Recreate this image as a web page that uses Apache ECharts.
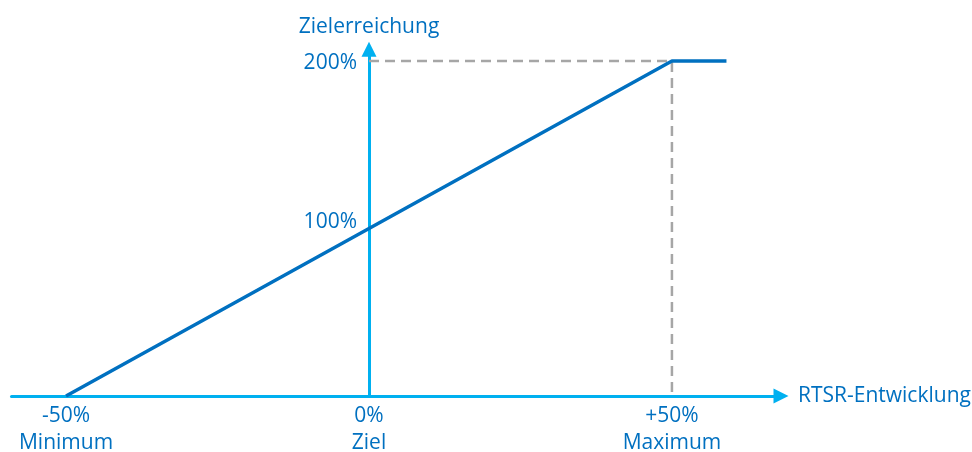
<!DOCTYPE html>
<html>
<head>
<meta charset="utf-8">
<script src="https://cdn.jsdelivr.net/npm/echarts@6/dist/echarts.min.js"></script>
<style>
  html, body { margin: 0; padding: 0; background: #fff; }
  #chart { width: 972px; height: 452px; }
</style>
</head>
<body>
<div id="chart"></div>
<script>
// RTSR development (x, %) against target achievement (y, %)
const payoutX = [-50, 50, 59];
const payoutY = [0, 200, 200];
const capX = [0, 50, 50];
const capY = [200, 200, 0];
const xTickValues = [-50, 0, 50];
const xTickLabels = ['-50%\nMinimum', '0%\nZiel', '+50%\nMaximum'];
const yTickValues = [100, 200];
const yTickLabels = ['{raised|100%}', '{plain|200%}'];

const FONT = 'Open Sans';
const TEXT = '#0070C0';
const AXIS = '#00B0F0';
const SIZE = 21;

const zip = (xs, ys) => xs.map((x, i) => [x, ys[i]]);

// grid spans x from -59 to 68 and y from 0 to 207; the y axis is shifted onto x = 0
const GRID_LEFT = 11.5;
const Y_AXIS_PX = 369;

const chart = echarts.init(document.getElementById('chart'));
chart.setOption({
  animation: false,
  grid: { left: GRID_LEFT, right: 191, top: 49.3, bottom: 56, containLabel: false, outerBoundsMode: 'none' },
  xAxis: {
    type: 'value',
    min: -59, max: 68,
    name: 'RTSR-Entwicklung',
    nameLocation: 'end',
    nameGap: 17,
    nameTextStyle: { color: TEXT, fontFamily: FONT, fontSize: SIZE, padding: [6, 0, 0, 0] },
    axisLine: {
      onZero: false,
      symbol: ['none', 'triangle'],
      symbolSize: [15, 15],
      lineStyle: { color: AXIS, width: 3 }
    },
    axisTick: { show: false },
    splitLine: { show: false },
    axisLabel: {
      customValues: xTickValues,
      formatter: v => xTickLabels[xTickValues.indexOf(v)],
      color: TEXT, fontFamily: FONT, fontSize: SIZE, lineHeight: 27, margin: 7
    }
  },
  yAxis: {
    type: 'value',
    min: 0, max: 207,
    offset: -(Y_AXIS_PX - GRID_LEFT),
    name: 'Zielerreichung',
    nameLocation: 'end',
    nameGap: 12,
    nameTextStyle: { color: TEXT, fontFamily: FONT, fontSize: SIZE },
    axisLine: {
      onZero: false,
      symbol: ['none', 'triangle'],
      symbolSize: [15, 15],
      lineStyle: { color: AXIS, width: 3 }
    },
    axisTick: { show: false },
    splitLine: { show: false },
    axisLabel: {
      customValues: yTickValues,
      formatter: v => yTickLabels[yTickValues.indexOf(v)],
      color: TEXT, fontFamily: FONT, fontSize: SIZE, margin: 12,
      rich: {
        raised: { color: TEXT, fontFamily: FONT, fontSize: SIZE, padding: [0, 0, 12, 0] },
        plain: { color: TEXT, fontFamily: FONT, fontSize: SIZE, padding: [4, 0, 0, 0] }
      }
    }
  },
  series: [
    {
      type: 'line',
      data: zip(capX, capY),
      symbol: 'none',
      lineStyle: { color: '#A6A6A6', width: 2.5, type: [10, 6] },
      z: 1
    },
    {
      type: 'line',
      data: zip(payoutX, payoutY),
      symbol: 'none',
      lineStyle: { color: TEXT, width: 3.5 },
      z: 3
    }
  ]
});
</script>
</body>
</html>
